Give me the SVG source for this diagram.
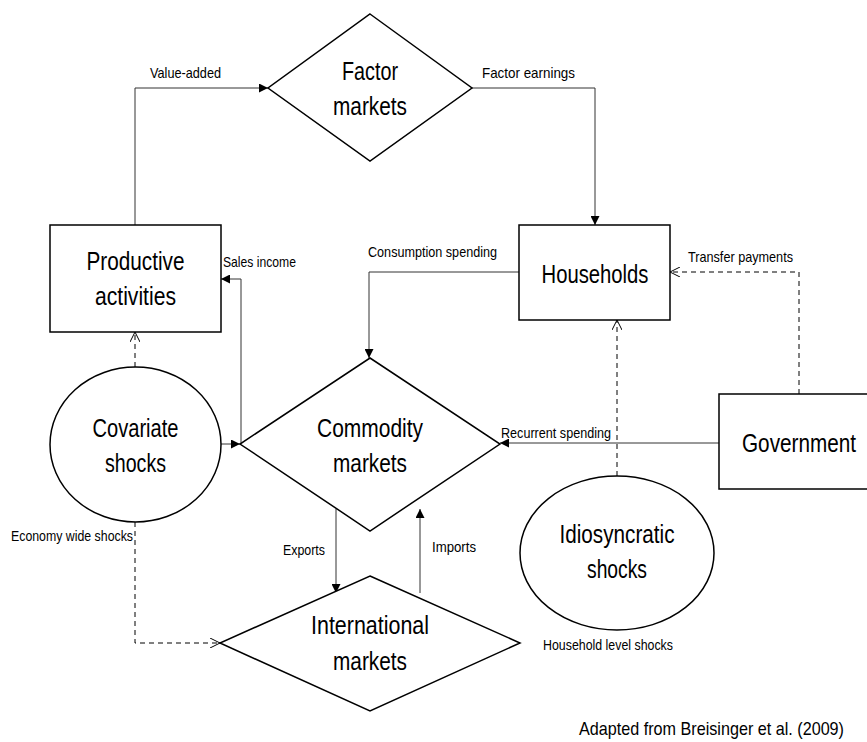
<svg xmlns="http://www.w3.org/2000/svg" width="867" height="742" viewBox="0 0 867 742">
<style>
.node{fill:#fff;stroke:#000;stroke-width:1.5}
.big{font-family:"Liberation Sans",Arial,sans-serif;font-size:25px;fill:#000;text-anchor:middle}
.lbl{font-family:"Liberation Sans",Arial,sans-serif;font-size:15px;fill:#000}
.c{fill:none;stroke:#333;stroke-width:1}
.d{fill:none;stroke:#000;stroke-width:1;stroke-dasharray:5,4}
</style>
<defs>
<marker id="fa" viewBox="0 0 10 10" refX="10" refY="5" markerWidth="9" markerHeight="9" markerUnits="userSpaceOnUse" orient="auto">
<path d="M0,0 L10,5 L0,10 Z" fill="#000"/>
</marker>
<marker id="oa" viewBox="0 0 10 10" refX="10" refY="5" markerWidth="10" markerHeight="10" markerUnits="userSpaceOnUse" orient="auto">
<path d="M0,0 L10,5 L0,10" fill="none" stroke="#000" stroke-width="1"/>
</marker>
</defs>
<rect width="867" height="742" fill="#fff"/>
<g id="connectors">
<path class="c" d="M135,225 V88 H268" marker-end="url(#fa)"/>
<path class="c" d="M472,88 H595 V225" marker-end="url(#fa)"/>
<path class="c" d="M519,272 H369 V358" marker-end="url(#fa)"/>
<path class="c" d="M241,444 V279 H221" marker-end="url(#fa)"/>
<path class="c" d="M221,444 H240" marker-end="url(#fa)"/>
<path class="c" d="M719,443 H500" marker-end="url(#fa)"/>
<path class="c" d="M336,509 V593" marker-end="url(#fa)"/>
<path class="c" d="M420,593 V509" marker-end="url(#fa)"/>
<path class="d" d="M799,394 V272 H670" marker-end="url(#oa)"/>
<path class="d" d="M135,367 V332" marker-end="url(#oa)"/>
<path class="d" d="M135,522 V643 H220" marker-end="url(#oa)"/>
<path class="d" d="M617,476 V320" marker-end="url(#oa)"/>
<text class="lbl" x="150" y="78" textLength="71" lengthAdjust="spacingAndGlyphs">Value-added</text>
<text class="lbl" x="482" y="78" textLength="93" lengthAdjust="spacingAndGlyphs">Factor earnings</text>
<text class="lbl" x="368" y="257" textLength="129" lengthAdjust="spacingAndGlyphs">Consumption spending</text>
<text class="lbl" x="688" y="262" textLength="105" lengthAdjust="spacingAndGlyphs">Transfer payments</text>
<text class="lbl" x="223" y="267" textLength="73" lengthAdjust="spacingAndGlyphs">Sales income</text>
<text class="lbl" x="501" y="438" textLength="110" lengthAdjust="spacingAndGlyphs">Recurrent spending</text>
<text class="lbl" x="11" y="541" textLength="122" lengthAdjust="spacingAndGlyphs">Economy wide shocks</text>
<text class="lbl" x="283" y="555" textLength="42" lengthAdjust="spacingAndGlyphs">Exports</text>
<text class="lbl" x="432" y="552" textLength="44" lengthAdjust="spacingAndGlyphs">Imports</text>
<text class="lbl" x="543" y="650" textLength="130" lengthAdjust="spacingAndGlyphs">Household level shocks</text>
</g>
<g id="factor-markets">
<polygon class="node" points="370,14 472,88 370,161 268,88"/>
<text class="big" x="370" y="80" textLength="56" lengthAdjust="spacingAndGlyphs">Factor</text>
<text class="big" x="370" y="115" textLength="74" lengthAdjust="spacingAndGlyphs">markets</text>
</g>
<g id="productive-activities">
<rect class="node" x="50" y="225" width="171" height="107"/>
<text class="big" x="135.5" y="270" textLength="98" lengthAdjust="spacingAndGlyphs">Productive</text>
<text class="big" x="135.5" y="305" textLength="81" lengthAdjust="spacingAndGlyphs">activities</text>
</g>
<g id="households">
<rect class="node" x="519" y="225" width="151" height="95"/>
<text class="big" x="595" y="283" textLength="107" lengthAdjust="spacingAndGlyphs">Households</text>
</g>
<g id="government">
<rect class="node" x="719" y="394" width="170" height="95"/>
<text class="big" x="799" y="452" textLength="114" lengthAdjust="spacingAndGlyphs">Government</text>
</g>
<g id="commodity-markets">
<polygon class="node" points="370,358 500,444 370,531 240,444"/>
<text class="big" x="370" y="437" textLength="106" lengthAdjust="spacingAndGlyphs">Commodity</text>
<text class="big" x="370" y="472" textLength="74" lengthAdjust="spacingAndGlyphs">markets</text>
</g>
<g id="covariate-shocks">
<ellipse class="node" cx="135.5" cy="444.5" rx="85.5" ry="77.5"/>
<text class="big" x="135.5" y="437" textLength="86" lengthAdjust="spacingAndGlyphs">Covariate</text>
<text class="big" x="135.5" y="472" textLength="61" lengthAdjust="spacingAndGlyphs">shocks</text>
</g>
<g id="international-markets">
<polygon class="node" points="370,576 520,643 370,711 220,643"/>
<text class="big" x="370" y="634" textLength="118" lengthAdjust="spacingAndGlyphs">International</text>
<text class="big" x="370" y="670" textLength="74" lengthAdjust="spacingAndGlyphs">markets</text>
</g>
<g id="idiosyncratic-shocks">
<ellipse class="node" cx="617" cy="553" rx="97" ry="77"/>
<text class="big" x="617" y="543" textLength="115" lengthAdjust="spacingAndGlyphs">Idiosyncratic</text>
<text class="big" x="617" y="578" textLength="60" lengthAdjust="spacingAndGlyphs">shocks</text>
</g>
<text class="lbl" x="579" y="735" style="font-size:19px" textLength="265" lengthAdjust="spacingAndGlyphs">Adapted from Breisinger et al. (2009)</text>
</svg>
